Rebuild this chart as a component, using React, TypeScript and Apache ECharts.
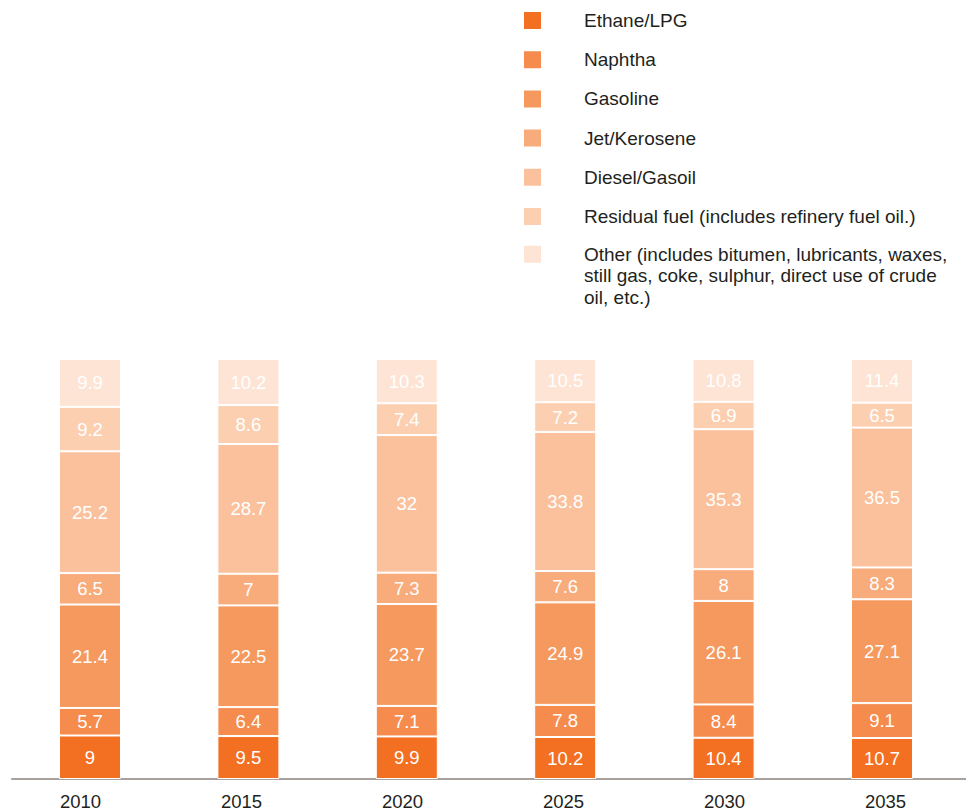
import React, { useEffect, useRef } from "react";
import * as echarts from "echarts";

const years = ["2010", "2015", "2020", "2025", "2030", "2035"];
const seriesNames = [
  "Ethane/LPG",
  "Naphtha",
  "Gasoline",
  "Jet/Kerosene",
  "Diesel/Gasoil",
  "Residual fuel (includes refinery fuel oil.)",
  "Other (includes bitumen, lubricants, waxes, still gas, coke, sulphur, direct use of crude oil, etc.)",
];
const otherLegendLines = [
  "Other (includes bitumen, lubricants, waxes,",
  "still gas, coke, sulphur, direct use of crude",
  "oil, etc.)",
];
const ethane = [9, 9.5, 9.9, 10.2, 10.4, 10.7];
const naphtha = [5.7, 6.4, 7.1, 7.8, 8.4, 9.1];
const gasoline = [21.4, 22.5, 23.7, 24.9, 26.1, 27.1];
const jet = [6.5, 7, 7.3, 7.6, 8, 8.3];
const diesel = [25.2, 28.7, 32, 33.8, 35.3, 36.5];
const residual = [9.2, 8.6, 7.4, 7.2, 6.9, 6.5];
const other = [9.9, 10.2, 10.3, 10.5, 10.8, 11.4];
const colors = ["#F36F21", "#F58B4C", "#F5995E", "#F8AB7B", "#FAC19C", "#FCCFB1", "#FEE4D4"];

const FONT = "'Liberation Sans', Helvetica, Arial, sans-serif";
const TEXT = "#231f20";

export default function App() {
  const ref = useRef<HTMLDivElement>(null);
  useEffect(() => {
    document.body.style.margin = "0";
    const chart = echarts.init(ref.current!, null, { renderer: "svg" });
    const all = [ethane, naphtha, gasoline, jet, diesel, residual, other];
    const totals = years.map((_, i) => all.reduce((s, arr) => s + arr[i], 0));
    const series = all.map((arr, k) => ({
      name: seriesNames[k],
      type: "bar",
      stack: "total",
      xAxisIndex: 0,
      yAxisIndex: 0,
      barWidth: 62,
      itemStyle: { color: colors[k], borderColor: "#ffffff", borderWidth: 1 },
      label: {
        show: true,
        position: "inside",
        color: "#ffffff",
        fontSize: 18.5,
        fontFamily: FONT,
        formatter: (p: any) => String(arr[p.dataIndex]),
      },
      emphasis: { disabled: true },
      data: arr.map((v, i) => (v / totals[i]) * 100),
    }));
    chart.setOption({
      animation: false,
      textStyle: { fontFamily: FONT },
      grid: [
        { left: 10.8, width: 950.4, top: 359, bottom: 33 },
        { left: 0, width: 973.8, top: 359, bottom: 33 },
        { left: 12, right: 0, top: 359, bottom: 33 },
      ],
      legend: [
        {
          orient: "vertical",
          left: 522,
          top: 10,
          padding: 0,
          itemWidth: 19,
          itemHeight: 19,
          itemGap: 18.2,
          icon: "rect",
          selectedMode: false,
          data: seriesNames.slice(0, 6),
          textStyle: {
            fontSize: 19,
            lineHeight: 19,
            color: TEXT,
            fontFamily: FONT,
            padding: [0, 0, 0, 37],
          },
        },
        {
          orient: "vertical",
          left: 522,
          top: 243.75,
          padding: 0,
          itemWidth: 19,
          itemHeight: 19,
          icon: "rect",
          selectedMode: false,
          data: seriesNames.slice(6),
          formatter: () => otherLegendLines.map((l) => `{o|${l}}`).join("\n"),
          textStyle: {
            color: TEXT,
            fontFamily: FONT,
            padding: [43, 0, 0, 37],
            rich: {
              o: { fontSize: 19, lineHeight: 21.5, color: TEXT, fontFamily: FONT },
            },
          },
        },
      ],
      xAxis: [
        {
          type: "category",
          gridIndex: 0,
          data: years,
          axisLine: { show: false },
          axisTick: { show: false },
          axisLabel: { show: false },
        },
        {
          type: "category",
          gridIndex: 1,
          data: years,
          axisLine: { show: false },
          axisTick: { show: false },
          axisLabel: { fontSize: 18.5, color: TEXT, margin: 13, fontFamily: FONT },
        },
        {
          type: "category",
          gridIndex: 2,
          data: years,
          axisLine: { lineStyle: { color: "#a8a09c", width: 2 } },
          axisTick: { show: false },
          axisLabel: { show: false },
        },
      ],
      yAxis: [
        { type: "value", gridIndex: 0, min: 0, max: 100, show: false },
        { type: "value", gridIndex: 1, min: 0, max: 100, show: false },
        { type: "value", gridIndex: 2, min: 0, max: 100, show: false },
      ],
      series,
    });
    return () => chart.dispose();
  }, []);
  return <div ref={ref} style={{ width: 966, height: 812 }} />;
}
